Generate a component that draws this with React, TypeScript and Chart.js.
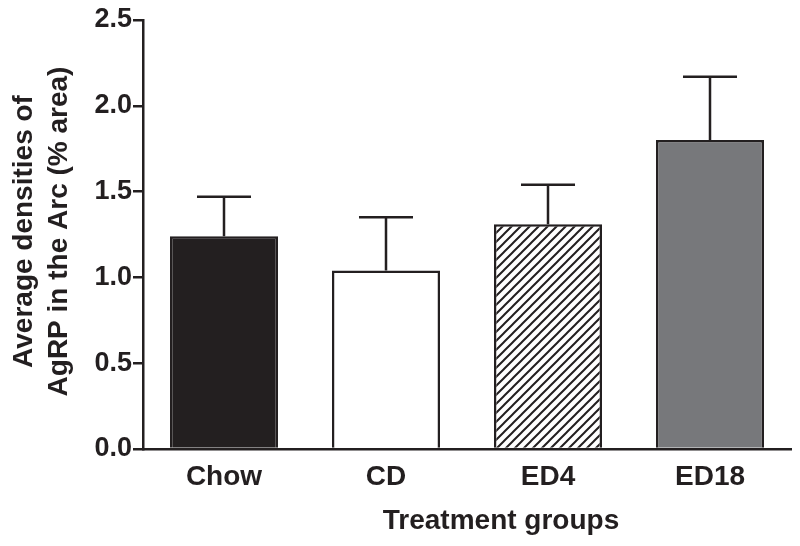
import React, { useEffect, useRef } from "react";
import { Chart, registerables } from "chart.js";

Chart.register(...registerables);

const categories = ["Chow", "CD", "ED4", "ED18"];
const means = [1.24, 1.04, 1.31, 1.8];
const errorTops = [1.47, 1.35, 1.54, 2.17];
const yTicks = [0, 0.5, 1.0, 1.5, 2.0, 2.5];
const yTitleLines = ["Average densities of", "AgRP in the Arc (% area)"];
const xTitle = "Treatment groups";

const INK = "#231f20";
const FONT = "'Liberation Sans', Arial, sans-serif";

function makeHatch(): CanvasPattern | string {
  const c = document.createElement("canvas");
  const s = 9;
  c.width = s;
  c.height = s;
  const g = c.getContext("2d");
  if (!g) return "#fff";
  g.fillStyle = "#ffffff";
  g.fillRect(0, 0, s, s);
  g.strokeStyle = INK;
  g.lineWidth = 2;
  g.beginPath();
  g.moveTo(-1, s + 1);
  g.lineTo(s + 1, -1);
  g.moveTo(-1, 1);
  g.lineTo(1, -1);
  g.moveTo(s - 1, s + 1);
  g.lineTo(s + 1, s - 1);
  g.stroke();
  const p = g.createPattern(c, "repeat");
  return p || "#fff";
}

const errorBarPlugin = {
  id: "errorBars",
  afterDatasetsDraw(chart: any) {
    const ctx = chart.ctx;
    const meta = chart.getDatasetMeta(0);
    const yScale = chart.scales.y;
    ctx.save();
    ctx.strokeStyle = INK;
    ctx.lineWidth = 2.5;
    meta.data.forEach((bar: any, i: number) => {
      const x = bar.x;
      const yTop = yScale.getPixelForValue(errorTops[i]);
      const yBar = yScale.getPixelForValue(means[i]);
      const half = bar.width / 4;
      ctx.beginPath();
      ctx.moveTo(x, yBar);
      ctx.lineTo(x, yTop);
      ctx.moveTo(x - half, yTop);
      ctx.lineTo(x + half, yTop);
      ctx.stroke();
    });
    ctx.restore();
  },
};

const titlesPlugin = {
  id: "axisTitles",
  afterDraw(chart: any) {
    const ctx = chart.ctx;
    const area = chart.chartArea;
    ctx.save();
    ctx.fillStyle = INK;
    ctx.font = `bold 28px ${FONT}`;
    ctx.textAlign = "center";
    ctx.textBaseline = "middle";
    ctx.fillText(xTitle, 501, 521);
    const cy = (area.top + area.bottom) / 2 - 3;
    const xs = [24, 59];
    yTitleLines.forEach((line, i) => {
      ctx.save();
      ctx.translate(xs[i], cy);
      ctx.rotate(-Math.PI / 2);
      ctx.fillText(line, 0, 0);
      ctx.restore();
    });
    ctx.restore();
  },
};

export default function App() {
  const ref = useRef<HTMLCanvasElement | null>(null);
  useEffect(() => {
    if (!ref.current) return;
    const hatch = makeHatch();
    const chart = new Chart(ref.current, {
      type: "bar",
      data: {
        labels: categories,
        datasets: [
          {
            data: means,
            backgroundColor: [INK, "#ffffff", hatch as any, "#77787b"],
            borderColor: INK,
            borderWidth: 2.5,
            borderSkipped: "bottom",
            barPercentage: 0.667,
            categoryPercentage: 1,
          },
        ],
      },
      options: {
        responsive: false,
        animation: false,
        devicePixelRatio: 1,
        layout: { padding: { left: 0, right: 9, top: 20, bottom: 0 } },
        plugins: {
          legend: { display: false },
          tooltip: { enabled: false },
          title: { display: false },
        },
        scales: {
          x: {
            grid: { display: false, drawTicks: false },
            border: { display: true, color: INK, width: 2.5 },
            ticks: {
              color: INK,
              padding: 11,
              font: { family: FONT, size: 28, weight: "bold" },
            },
            afterFit(scale: any) {
              scale.height = 97;
            },
          },
          y: {
            min: 0,
            max: 2.5,
            afterBuildTicks(scale: any) {
              scale.ticks = yTicks.map((v) => ({ value: v }));
            },
            grid: {
              display: true,
              drawOnChartArea: false,
              drawTicks: true,
              tickLength: 10,
              color: INK,
              lineWidth: 2.5,
            },
            border: { display: true, color: INK, width: 2.5 },
            ticks: {
              color: INK,
              padding: 1,
              font: { family: FONT, size: 27, weight: "bold" },
              callback: (v: any) => Number(v).toFixed(1),
            },
            afterFit(scale: any) {
              scale.width = 143;
            },
          },
        },
      },
      plugins: [errorBarPlugin, titlesPlugin],
    });
    return () => chart.destroy();
  }, []);
  return (
    <div style={{ position: "fixed", left: 0, top: 0, width: 800, height: 546, background: "#fff" }}>
      <canvas ref={ref} width={800} height={546} />
    </div>
  );
}
